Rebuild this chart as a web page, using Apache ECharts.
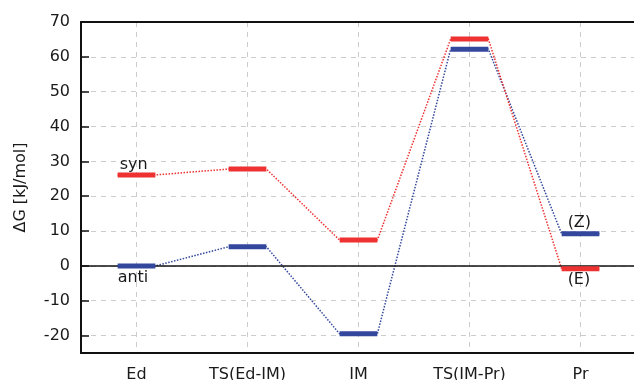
<!DOCTYPE html>
<html>
<head>
<meta charset="utf-8">
<script src="https://cdn.jsdelivr.net/npm/echarts@6/dist/echarts.min.js"></script>
<style>html,body{margin:0;padding:0;background:#fff}#c{width:634px;height:380px}</style>
</head>
<body>
<div id="c"></div>
<script>
// ---- data ----
const categories = ['Ed', 'TS(Ed-IM)', 'IM', 'TS(IM-Pr)', 'Pr'];
const synValues  = [26.1, 27.8, 7.4, 65.1, -0.8];
const antiValues = [0, 5.5, -19.5, 62.2, 9.2];
const synLabels  = ['syn', '', '', '', '(E)'];
const antiLabels = ['anti', '', '', '', '(Z)'];
const yTickValues = [-20, -10, 0, 10, 20, 30, 40, 50, 60, 70];

// ---- styling ----
const RED = '#ee3131';
const BLUE = '#33479c';
const HALF = 0.17;
const FONT = 'DejaVu Sans';
const TXT = '#1a1a1a';

function levelSeries(values, color) {
  return values.map((v, i) => ({
    type: 'line', silent: true, animation: false, showSymbol: false, symbol: 'none', z: 5,
    lineStyle: { color: color, width: 5, cap: 'butt' },
    data: [[i - HALF, v], [i + HALF, v]]
  }));
}
function connectorSeries(values, color) {
  const pts = [];
  values.forEach((v, i) => { pts.push([i - HALF, v]); pts.push([i + HALF, v]); });
  return {
    type: 'line', silent: true, animation: false, showSymbol: false, symbol: 'none', z: 3,
    lineStyle: { color: color, width: 1.5, type: 'dotted' },
    data: pts
  };
}
function labelSeries(values, labels, placements) {
  const data = [];
  values.forEach((v, i) => {
    if (!labels[i]) return;
    const p = placements[i];
    data.push({
      value: [i - HALF, v],
      label: { show: true, formatter: labels[i], position: p.pos, distance: p.dist,
               align: 'left', offset: [p.dx, 0],
               fontFamily: FONT, fontSize: 16, color: TXT, opacity: 1 }
    });
  });
  return {
    type: 'scatter', silent: true, animation: false, symbolSize: 1, z: 6,
    itemStyle: { color: 'rgba(255,255,255,0)' },
    data: data
  };
}

const synPos  = [{pos:'top', dist:2, dx:2}, null, null, null, {pos:'bottom', dist:3, dx:6}];
const antiPos = [{pos:'bottom', dist:3, dx:0}, null, null, null, {pos:'top', dist:2, dx:6}];

const chart = echarts.init(document.getElementById('c'), null, { renderer: 'canvas' });
chart.setOption({
  animation: false,
  backgroundColor: '#fff',
  grid: { left: 81, right: -2, top: 22, bottom: 27, outerBoundsMode: 'none', containLabel: false },
  xAxis: [{
    type: 'value', min: -0.5, max: 4.5, minInterval: 1, maxInterval: 1, splitNumber: 5,
    axisLine: { show: true, onZero: false, lineStyle: { color: '#111', width: 2 } },
    axisTick: { show: false },
    axisLabel: {
      fontFamily: FONT, fontSize: 16, color: TXT, margin: 14,
      formatter: v => (Number.isInteger(v) && categories[v] !== undefined) ? categories[v] : ''
    },
    splitLine: { show: true, lineStyle: { color: '#cccccc', width: 1, type: [5, 5] } }
  }, {
    type: 'value', position: 'top', min: -0.5, max: 4.5, z: 4,
    axisLine: { show: true, onZero: false, lineStyle: { color: '#111', width: 2 } },
    axisTick: { show: false }, axisLabel: { show: false }, splitLine: { show: false }
  }],
  yAxis: {
    type: 'value', min: -25, max: 70, minInterval: 10, maxInterval: 10, splitNumber: 10,
    name: 'ΔG [kJ/mol]', nameLocation: 'middle', nameRotate: 90, nameGap: 52,
    nameTextStyle: { fontFamily: FONT, fontSize: 16, color: TXT },
    axisLine: { show: true, onZero: false, lineStyle: { color: '#111', width: 2 } },
    axisTick: { show: true, inside: true, length: 8, lineStyle: { color: '#111', width: 1.5 } },
    axisLabel: {
      fontFamily: FONT, fontSize: 16, color: TXT, margin: 11,
      formatter: v => yTickValues.includes(v) ? String(v) : ''
    },
    splitLine: { show: true, lineStyle: { color: '#cccccc', width: 1, type: [5, 5] } }
  },
  series: [
    Object.assign(connectorSeries(antiValues, BLUE), {
      markLine: {
        silent: true, symbol: 'none', animation: false, label: { show: false },
        lineStyle: { color: '#111', width: 1.5, type: 'solid' },
        data: [{ yAxis: 0 }]
      }
    }),
    connectorSeries(synValues, RED),
    ...levelSeries(antiValues, BLUE),
    ...levelSeries(synValues, RED),
    labelSeries(synValues, synLabels, synPos),
    labelSeries(antiValues, antiLabels, antiPos)
  ]
});
</script>
</body>
</html>
